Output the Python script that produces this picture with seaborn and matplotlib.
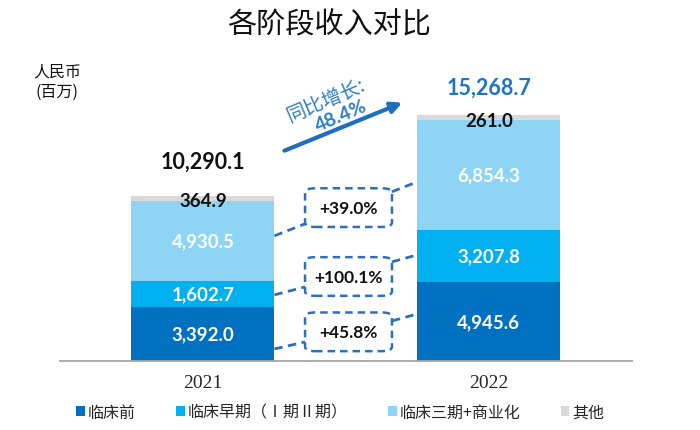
import numpy as np
import matplotlib.pyplot as plt
import pandas as pd
import seaborn as sns
from matplotlib.patches import FancyBboxPatch, Patch

# data (RMB millions)
years = ["2021", "2022"]
preclinical = [3392.0, 4945.6]
early_clinical = [1602.7, 3207.8]
late_clinical = [4930.5, 6854.3]
other = [364.9, 261.0]
totals = [10290.1, 15268.7]
growth_labels = ["+45.8%", "+100.1%", "+39.0%"]
yoy_label = "48.4%"

series_names = ["临床前", "临床早期（Ⅰ期Ⅱ期）", "临床三期+商业化", "其他"]
series_colors = ["#0070C0", "#00B0F0", "#8ED5F5", "#D9D9D9"]
layers = [preclinical, early_clinical, late_clinical, other]

sns.set_theme(style="white")
plt.rcParams["font.family"] = ["Noto Sans CJK SC", "DejaVu Sans"]
num_font = ["Lato", "DejaVu Sans"]

fig = plt.figure(figsize=(7, 4.31), dpi=100)
ax = fig.add_axes([0.0857, 0.159, 0.817, 0.748])

# stacked bars: draw cumulative heights from the top layer down
cum = np.cumsum(np.array(layers), axis=0)
for i in range(len(layers) - 1, -1, -1):
    df = pd.DataFrame({"year": years, "value": cum[i]})
    sns.barplot(data=df, x="year", y="value", color=series_colors[i], saturation=1,
                width=0.5, errorbar=None, linewidth=0, ax=ax)

ax.set_xlim(-0.5, 1.5)
ax.set_ylim(0, 20000)
ax.set_yticks([])
ax.set_xlabel("")
ax.set_ylabel("")
for s in ["left", "right", "top"]:
    ax.spines[s].set_visible(False)
ax.spines["bottom"].set_color("#A6A6A6")
ax.spines["bottom"].set_linewidth(1.3)
ax.tick_params(axis="x", length=0, pad=9)
ax.set_xticks([0, 1])
ax.set_xticklabels(years, fontsize=14, family=["Liberation Serif", "DejaVu Serif"])

# segment value labels (white)
for i in range(3):
    for j in range(len(years)):
        mid = cum[i][j] - layers[i][j] / 2
        ax.text(j, mid, f"{layers[i][j]:,.1f}", ha="center", va="center", color="white",
                fontsize=13.5, fontweight="bold", family=num_font)

# "other" labels sit on the thin grey cap
for j in range(len(years)):
    ax.annotate(f"{other[j]:,.1f}", (j, totals[j]), xytext=(0, -3.5), textcoords="offset points",
                ha="center", va="center", fontsize=13.5, fontweight="bold", color="#111111",
                family=num_font)

# totals
total_colors = ["#111111", "#1F74C3"]
total_offsets = [25, 20]
for j in range(len(years)):
    ax.annotate(f"{totals[j]:,.1f}", (j, totals[j]), xytext=(0, total_offsets[j]),
                textcoords="offset points", ha="center", va="center", fontsize=15.5,
                fontweight="bold", color=total_colors[j], family=num_font)

# growth boxes with dashed connectors
box_color = "#2E70B8"
box_x0, box_x1 = 0.357, 0.661
box_h = 2400
box_cy = [1840, 5271, 9545]
left_conn = [(776, 1211), (4130, 4627), (7795, 8540)]
right_conn = [(2516, 2950), (6180, 6615), (10528, 11149)]
for k in range(3):
    box = FancyBboxPatch((box_x0, box_cy[k] - box_h / 2), box_x1 - box_x0, box_h,
                         boxstyle="round,pad=0,rounding_size=0.035", mutation_aspect=8000,
                         fill=False, edgecolor=box_color, linewidth=1.8, linestyle=(0, (3, 2)))
    ax.add_patch(box)
    ax.text((box_x0 + box_x1) / 2, box_cy[k], growth_labels[k], ha="center", va="center",
            fontsize=12.5, fontweight="bold", color="#111111", family=num_font)
    ax.plot([0.25, box_x0], left_conn[k], color=box_color, lw=2, ls=(0, (3, 2)))
    ax.plot([box_x1, 0.75], right_conn[k], color=box_color, lw=2, ls=(0, (3, 2)))

# year-on-year arrow
ax.annotate("", xy=(0.706, 16118), xytext=(0.276, 13012),
            arrowprops=dict(arrowstyle="-|>", color="#1F6FC0", lw=3, mutation_scale=16))
ax.text(0.43, 16250, "同比增长:", rotation=23, ha="center", va="center", fontsize=14,
        color="#2E7CC8", rotation_mode="anchor")
ax.text(0.482, 15300, yoy_label, rotation=23, ha="center", va="center", fontsize=14,
        fontweight="bold", color="#2E7CC8", family=num_font, rotation_mode="anchor")

# titles
fig.text(329 / 700, 1 - 25 / 431, "各阶段收入对比", ha="center", va="center", fontsize=21,
         color="#111111")
fig.text(57 / 700, 1 - 82 / 431, "人民币\n(百万)", ha="center", va="center", fontsize=11.5,
         color="#111111", linespacing=1.3)

# legend
handles = [Patch(facecolor=c, edgecolor="none") for c in series_colors]
fig.legend(handles, series_names, loc="center", bbox_to_anchor=(0.486, 1 - 413 / 431),
           ncol=4, frameon=False, handlelength=0.55, handleheight=0.55, handletextpad=0.2,
           columnspacing=2.5, fontsize=11.5)

fig.savefig("out.png", dpi=100)
